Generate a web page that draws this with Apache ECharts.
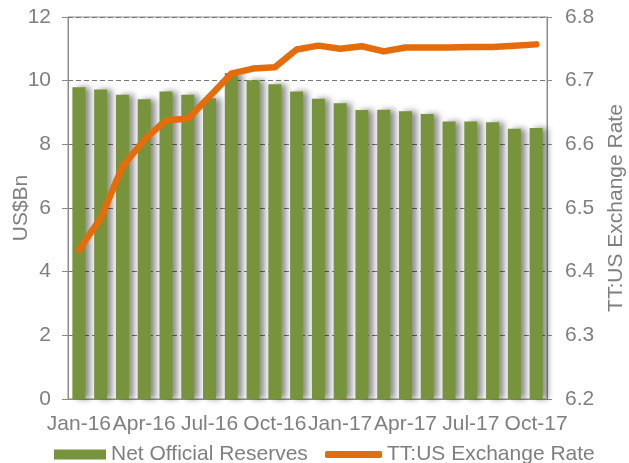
<!DOCTYPE html>
<html>
<head>
<meta charset="utf-8">
<script src="https://cdn.jsdelivr.net/npm/echarts@6/dist/echarts.min.js"></script>
<style>
  html, body { margin: 0; padding: 0; background: #fff; }
  #main { width: 629px; height: 463px; }
</style>
</head>
<body>
<div id="main"></div>
<script>
"use strict";
// 月份（Jan-16 到 Oct-17）
var months = ['Jan-16', 'Feb-16', 'Mar-16', 'Apr-16', 'May-16', 'Jun-16', 'Jul-16', 'Aug-16',
  'Sep-16', 'Oct-16', 'Nov-16', 'Dec-16', 'Jan-17', 'Feb-17', 'Mar-17', 'Apr-17',
  'May-17', 'Jun-17', 'Jul-17', 'Aug-17', 'Sep-17', 'Oct-17'];
// 净官方储备 US$Bn
var reserves = [9.79, 9.72, 9.56, 9.42, 9.66, 9.56, 9.45, 10.24, 10.01, 9.89, 9.66, 9.43,
  9.29, 9.08, 9.09, 9.04, 8.95, 8.72, 8.72, 8.69, 8.49, 8.51];
// TT:US 汇率
var exchangeRate = [6.434, 6.484, 6.565, 6.607, 6.638, 6.640, 6.675, 6.711, 6.719, 6.721,
  6.749, 6.755, 6.750, 6.754, 6.746, 6.752, 6.752, 6.752, 6.753, 6.753, 6.755, 6.757];
var leftTicks = { min: 0, max: 12, interval: 2 };
var rightTicks = { min: 6.2, max: 6.8, interval: 0.1 };

var grey = '#7f7f7f';
var axisGrey = '#8c8c8c';
var font = 'Liberation Sans, Arial, sans-serif';
var fs = 21;

var myChart = echarts.init(document.getElementById('main'));
var option = {
  animation: false,
  textStyle: { fontFamily: font },
  grid: {
    left: 68, right: 82, top: 17, bottom: 64,
    outerBoundsMode: 'none',
    containLabel: false,
    show: true, borderColor: axisGrey, borderWidth: 1
  },
  legend: [
    {
      data: ['Net Official Reserves'],
      left: 49, top: 439,
      icon: 'rect', itemWidth: 52, itemHeight: 10, itemGap: 6,
      textStyle: { color: grey, fontSize: fs, fontFamily: font }
    },
    {
      data: ['TT:US Exchange Rate'],
      left: 320, top: 439,
      icon: 'roundRect', itemWidth: 57, itemHeight: 7,
      textStyle: { color: grey, fontSize: fs, fontFamily: font }
    }
  ],
  xAxis: {
    type: 'category',
    data: months,
    boundaryGap: true,
    axisLine: { lineStyle: { color: axisGrey, width: 1 } },
    axisTick: { interval: 2, length: 5, lineStyle: { color: axisGrey } },
    axisLabel: { interval: 2, color: grey, fontSize: fs, margin: 15, fontFamily: font, hideOverlap: false }
  },
  yAxis: [
    {
      type: 'value',
      min: leftTicks.min, max: leftTicks.max, interval: leftTicks.interval,
      name: 'US$Bn', nameLocation: 'middle', nameRotate: 90, nameGap: 36,
      nameMoveOverlap: false,
      nameTextStyle: { color: grey, fontSize: fs, fontFamily: font },
      axisLine: { show: true, lineStyle: { color: axisGrey, width: 1 } },
      axisTick: { show: true, length: 6, lineStyle: { color: axisGrey } },
      axisLabel: { color: grey, fontSize: fs, margin: 17, fontFamily: font },
      splitLine: { show: true, lineStyle: { color: '#777', type: [5, 3], width: 1 } }
    },
    {
      type: 'value',
      position: 'right',
      min: rightTicks.min, max: rightTicks.max, interval: rightTicks.interval,
      name: 'TT:US Exchange Rate', nameLocation: 'middle', nameRotate: 90, nameGap: 59,
      nameMoveOverlap: false,
      nameTextStyle: { color: grey, fontSize: fs, fontFamily: font },
      axisLine: { show: true, lineStyle: { color: axisGrey, width: 1 } },
      axisTick: { show: true, length: 5, lineStyle: { color: axisGrey } },
      axisLabel: {
        color: grey, fontSize: fs, margin: 18, fontFamily: font,
        formatter: function (v) { return v.toFixed(1); }
      },
      splitLine: { show: false }
    }
  ],
  series: [
    {
      name: 'Net Official Reserves',
      type: 'bar',
      yAxisIndex: 0,
      barWidth: 13,
      data: reserves,
      itemStyle: {
        color: '#77933C',
        shadowColor: 'rgba(0,0,0,0.45)',
        shadowBlur: 6,
        shadowOffsetX: 5,
        shadowOffsetY: 0
      }
    },
    {
      name: 'TT:US Exchange Rate',
      type: 'line',
      yAxisIndex: 1,
      data: exchangeRate,
      symbol: 'none',
      itemStyle: { color: '#E46C0A' },
      lineStyle: { color: '#E46C0A', width: 6.5, cap: 'round', join: 'round' }
    }
  ]
};
myChart.setOption(option);
</script>
</body>
</html>
